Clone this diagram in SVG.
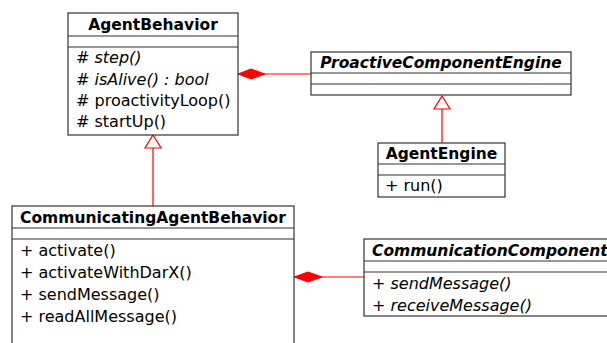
<svg xmlns="http://www.w3.org/2000/svg" width="607" height="343" viewBox="0 0 607 343">
<style>
.box{fill:#fff;stroke:#333;stroke-width:1.2}
.sep{stroke:#333;stroke-width:1.2}
.t{font-family:"DejaVu Sans",sans-serif;font-size:16px;fill:#000}
.b{font-weight:bold;font-size:15.5px}
.c{text-anchor:middle}
.i{font-style:italic}
.link{stroke:#f00;stroke-width:1.2;fill:none}
.dia{fill:#f00;stroke:#f00}
.tri{fill:#fff;stroke:#f00;stroke-width:1.2}
</style>
<rect width="607" height="343" fill="#fff"/>
<g id="connectors">
<line class="link" x1="265" y1="74" x2="311" y2="74"/>
<polygon class="dia" points="238,74 251,69 265,74 251,79"/>
<line class="link" x1="442" y1="109" x2="442" y2="143"/>
<polygon class="tri" points="442,96 450,109 434,109"/>
<line class="link" x1="153" y1="148" x2="153" y2="206"/>
<polygon class="tri" points="153,135 161,148 145,148"/>
<line class="link" x1="322" y1="277" x2="364" y2="277"/>
<polygon class="dia" points="294,277 308,272 322,277 308,282"/>
</g>
<g id="AgentBehavior">
<rect class="box" x="68" y="13" width="170" height="122"/>
<line class="sep" x1="68" y1="36" x2="238" y2="36"/>
<line class="sep" x1="68" y1="47" x2="238" y2="47"/>
<text class="t b c" x="153" y="30">AgentBehavior</text>
<text class="t i" x="76" y="63"># step()</text>
<text class="t i" x="76" y="85"># isAlive() : bool</text>
<text class="t" x="76" y="106"># proactivityLoop()</text>
<text class="t" x="76" y="127"># startUp()</text>
</g>
<g id="ProactiveComponentEngine">
<rect class="box" x="311" y="52" width="260" height="43"/>
<line class="sep" x1="311" y1="73" x2="571" y2="73"/>
<line class="sep" x1="311" y1="84" x2="571" y2="84"/>
<text class="t b i c" x="441" y="68">ProactiveComponentEngine</text>
</g>
<g id="AgentEngine">
<rect class="box" x="378" y="143" width="127" height="54"/>
<line class="sep" x1="378" y1="164" x2="505" y2="164"/>
<line class="sep" x1="378" y1="175" x2="505" y2="175"/>
<text class="t b c" x="441.5" y="159">AgentEngine</text>
<text class="t" x="385" y="191">+ run()</text>
</g>
<g id="CommunicatingAgentBehavior">
<rect class="box" x="12" y="206" width="282" height="150"/>
<line class="sep" x1="12" y1="228" x2="294" y2="228"/>
<line class="sep" x1="12" y1="239" x2="294" y2="239"/>
<text class="t b c" x="153" y="223">CommunicatingAgentBehavior</text>
<text class="t" x="20" y="256">+ activate()</text>
<text class="t" x="20" y="278">+ activateWithDarX()</text>
<text class="t" x="20" y="300">+ sendMessage()</text>
<text class="t" x="20" y="322">+ readAllMessage()</text>
</g>
<g id="CommunicationComponent">
<rect class="box" x="364" y="239" width="260" height="77"/>
<line class="sep" x1="364" y1="261" x2="624" y2="261"/>
<line class="sep" x1="364" y1="272" x2="624" y2="272"/>
<text class="t b i" x="372" y="256">CommunicationComponent</text>
<text class="t i" x="372" y="289">+ sendMessage()</text>
<text class="t i" x="372" y="311">+ receiveMessage()</text>
</g>
</svg>
